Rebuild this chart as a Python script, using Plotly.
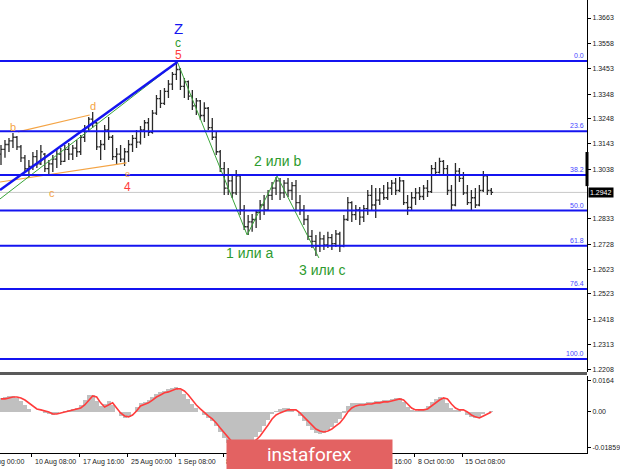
import plotly.graph_objects as go

# ---------------- data ----------------
bar_index = list(range(124))
open_ = [1.3100,1.3120,1.3140,1.3155,1.3170,1.3130,1.3085,1.3040,1.3050,1.3090,
         1.3060,1.3100,1.3040,1.3060,1.3080,1.3100,1.3070,1.3120,1.3100,1.3125,
         1.3110,1.3170,1.3210,1.3245,1.3230,1.3130,1.3140,1.3200,1.3170,1.3090,
         1.3100,1.3080,1.3110,1.3140,1.3165,1.3150,1.3200,1.3230,1.3190,1.3270,
         1.3330,1.3310,1.3360,1.3390,1.3430,1.3450,1.3380,1.3400,1.3340,1.3300,
         1.3320,1.3260,1.3290,1.3210,1.3170,1.3110,1.3040,1.2960,1.2990,1.2940,
         1.3010,1.2870,1.2800,1.2820,1.2830,1.2860,1.2890,1.2870,1.2930,1.2960,
         1.2990,1.2940,1.2980,1.2950,1.2970,1.2900,1.2870,1.2830,1.2760,1.2740,
         1.2720,1.2750,1.2725,1.2755,1.2730,1.2770,1.2720,1.2830,1.2900,1.2850,
         1.2870,1.2840,1.2875,1.2930,1.2890,1.2910,1.2940,1.2920,1.2960,1.2980,
         1.2950,1.2990,1.2900,1.2880,1.2920,1.2940,1.2925,1.2960,1.2945,1.3040,
         1.3025,1.3070,1.3040,1.2950,1.2890,1.3030,1.3000,1.2940,1.2900,1.2920,
         1.2890,1.2950,1.3010,1.2950]
high = [1.3138,1.3159,1.3167,1.3188,1.3175,1.3138,1.3097,1.3076,1.3109,1.3117,
        1.3138,1.3105,1.3076,1.3097,1.3117,1.3126,1.3138,1.3146,1.3138,1.3159,
        1.3179,1.3221,1.3254,1.3274,1.3233,1.3159,1.3221,1.3254,1.3179,1.3126,
        1.3138,1.3126,1.3159,1.3179,1.3200,1.3217,1.3241,1.3250,1.3283,1.3345,
        1.3365,1.3374,1.3407,1.3440,1.3481,1.3456,1.3415,1.3405,1.3365,1.3332,
        1.3324,1.3315,1.3295,1.3250,1.3192,1.3117,1.3068,1.3043,1.3014,1.3035,
        1.3015,1.2890,1.2849,1.2853,1.2869,1.2911,1.2931,1.2952,1.2985,1.3006,
        1.3002,1.2993,1.3002,1.2985,1.2993,1.2931,1.2890,1.2849,1.2787,1.2766,
        1.2779,1.2766,1.2779,1.2770,1.2787,1.2779,1.2849,1.2923,1.2905,1.2890,
        1.2882,1.2890,1.2952,1.2973,1.2960,1.2960,1.2973,1.2985,1.2993,1.3002,
        1.3006,1.2993,1.2931,1.2944,1.2960,1.2964,1.2973,1.2993,1.3055,1.3068,
        1.3085,1.3076,1.3055,1.2973,1.3064,1.3043,1.3026,1.2973,1.2952,1.2960,
        1.2973,1.3030,1.3015,1.2960]
low = [1.3055,1.3085,1.3109,1.3126,1.3117,1.3068,1.3026,1.3002,1.3035,1.3043,
       1.3055,1.3026,1.3010,1.3026,1.3043,1.3055,1.3068,1.3076,1.3076,1.3088,
       1.3097,1.3150,1.3192,1.3209,1.3117,1.3076,1.3117,1.3159,1.3076,1.3055,
       1.3068,1.3051,1.3068,1.3109,1.3126,1.3140,1.3167,1.3175,1.3185,1.3262,
       1.3291,1.3303,1.3332,1.3365,1.3407,1.3365,1.3332,1.3324,1.3283,1.3262,
       1.3241,1.3233,1.3200,1.3159,1.3097,1.3026,1.2931,1.2931,1.2919,1.2931,
       1.2849,1.2787,1.2766,1.2779,1.2795,1.2828,1.2849,1.2869,1.2911,1.2931,
       1.2911,1.2919,1.2923,1.2911,1.2869,1.2849,1.2807,1.2745,1.2712,1.2679,
       1.2696,1.2704,1.2712,1.2704,1.2716,1.2696,1.2715,1.2824,1.2820,1.2828,
       1.2807,1.2820,1.2849,1.2869,1.2836,1.2890,1.2911,1.2911,1.2931,1.2931,
       1.2944,1.2890,1.2849,1.2869,1.2890,1.2911,1.2911,1.2923,1.2940,1.3014,
       1.3020,1.3014,1.2931,1.2869,1.2885,1.2985,1.2931,1.2890,1.2869,1.2878,
       1.2885,1.2944,1.2931,1.2931]
close = [1.3120,1.3140,1.3155,1.3170,1.3130,1.3085,1.3040,1.3050,1.3090,1.3060,
         1.3110,1.3040,1.3060,1.3080,1.3100,1.3070,1.3120,1.3100,1.3125,1.3110,
         1.3170,1.3210,1.3245,1.3230,1.3130,1.3140,1.3200,1.3170,1.3090,1.3100,
         1.3080,1.3110,1.3140,1.3165,1.3150,1.3200,1.3230,1.3190,1.3270,1.3330,
         1.3310,1.3360,1.3390,1.3430,1.3450,1.3380,1.3400,1.3340,1.3300,1.3320,
         1.3260,1.3290,1.3210,1.3170,1.3110,1.3040,1.2960,1.2990,1.2940,1.3010,
         1.2870,1.2800,1.2820,1.2830,1.2860,1.2890,1.2870,1.2930,1.2960,1.2990,
         1.2940,1.2980,1.2950,1.2970,1.2900,1.2870,1.2830,1.2760,1.2740,1.2720,
         1.2750,1.2725,1.2755,1.2730,1.2770,1.2720,1.2830,1.2900,1.2850,1.2870,
         1.2840,1.2875,1.2930,1.2890,1.2910,1.2940,1.2920,1.2960,1.2980,1.2950,
         1.2990,1.2900,1.2880,1.2920,1.2940,1.2925,1.2960,1.2945,1.3040,1.3025,
         1.3070,1.3040,1.2950,1.2890,1.3030,1.3000,1.2940,1.2900,1.2920,1.2890,
         1.2950,1.3010,1.2950,1.2942]

macd_hist = [0.0074,0.0079,0.0085,0.0085,0.0074,0.0058,0.0037,0.0016,0.0000,0.0000,
             0.0000,-0.0005,-0.0011,-0.0016,-0.0011,0.0000,0.0005,0.0011,0.0016,0.0021,
             0.0037,0.0063,0.0090,0.0090,0.0058,0.0032,0.0042,0.0058,0.0037,0.0000,
             -0.0021,-0.0032,-0.0026,0.0000,0.0026,0.0048,0.0053,0.0063,0.0079,0.0095,
             0.0106,0.0111,0.0122,0.0127,0.0132,0.0116,0.0095,0.0069,0.0042,0.0021,
             0.0000,-0.0016,-0.0032,-0.0048,-0.0074,-0.0106,-0.0138,-0.0164,-0.0180,-0.0190,
             -0.0196,-0.0190,-0.0175,-0.0153,-0.0132,-0.0106,-0.0074,-0.0042,-0.0011,0.0005,
             0.0016,0.0021,0.0021,0.0016,0.0000,-0.0021,-0.0048,-0.0074,-0.0095,-0.0111,
             -0.0116,-0.0111,-0.0095,-0.0079,-0.0058,-0.0037,-0.0005,0.0032,0.0048,0.0048,
             0.0048,0.0048,0.0053,0.0053,0.0058,0.0058,0.0063,0.0063,0.0069,0.0074,
             0.0074,0.0053,0.0026,0.0011,0.0005,0.0011,0.0016,0.0032,0.0053,0.0069,
             0.0079,0.0074,0.0048,0.0021,0.0011,0.0011,0.0000,-0.0016,-0.0026,-0.0032,
             -0.0026,-0.0011,0.0000,0.0005]
macd_signal = [0.0069,0.0069,0.0074,0.0079,0.0079,0.0074,0.0063,0.0048,0.0032,0.0016,
               0.0011,0.0005,0.0000,-0.0011,-0.0011,-0.0005,0.0000,0.0005,0.0011,0.0016,
               0.0021,0.0037,0.0063,0.0085,0.0079,0.0048,0.0026,0.0037,0.0048,0.0021,
               -0.0005,-0.0021,-0.0026,-0.0016,0.0005,0.0032,0.0042,0.0048,0.0063,0.0079,
               0.0090,0.0101,0.0106,0.0116,0.0122,0.0122,0.0111,0.0090,0.0063,0.0037,
               0.0016,-0.0005,-0.0021,-0.0037,-0.0058,-0.0085,-0.0111,-0.0138,-0.0159,-0.0175,
               -0.0185,-0.0185,-0.0180,-0.0164,-0.0148,-0.0127,-0.0101,-0.0069,-0.0037,-0.0016,
               -0.0005,0.0005,0.0011,0.0011,0.0011,-0.0005,-0.0026,-0.0048,-0.0069,-0.0090,
               -0.0101,-0.0106,-0.0101,-0.0090,-0.0074,-0.0058,-0.0032,0.0000,0.0021,0.0032,
               0.0037,0.0037,0.0042,0.0042,0.0048,0.0048,0.0053,0.0053,0.0058,0.0063,
               0.0069,0.0063,0.0042,0.0021,0.0011,0.0011,0.0011,0.0016,0.0032,0.0048,
               0.0063,0.0074,0.0069,0.0042,0.0021,0.0011,0.0011,0.0000,-0.0016,-0.0026,
               -0.0032,-0.0021,-0.0011,0.0000]

price_ticks = [1.3663, 1.3558, 1.3453, 1.3348, 1.3248, 1.3143, 1.3038,
               1.2833, 1.2728, 1.2623, 1.2523, 1.2418, 1.2313, 1.2208]
ind_ticks = [0.0164, 0.0, -0.01859]
ind_tick_text = ["0.0164", "0.00", "-0.01859"]
time_labels = ["3 Aug 00:00", "10 Aug 08:00", "17 Aug 16:00", "25 Aug 00:00", "1 Sep 08:00",
               "8 Sep 16:00", "16 Sep 00:00", "23 Sep 08:00", "30 Sep 16:00",
               "8 Oct 00:00", "15 Oct 08:00"]
time_label_bar = [-4.25, 7.75, 19.75, 31.75, 43.75, 55.75, 67.75, 79.75, 91.75, 103.75, 115.75]
fib_levels = ["0.0", "23.6", "38.2", "50.0", "61.8", "76.4", "100.0"]
fib_prices = [1.3485, 1.3195, 1.3014, 1.2867, 1.2722, 1.2543, 1.2253]
current_price = 1.2942

blue_wave_x = [-0.25, 44.25]
blue_wave_y = [1.2952, 1.3481]
green_wave_x = [-0.25, 44.25, 61.75, 69.25, 79.75]
green_wave_y = [1.2915, 1.3481, 1.2766, 1.3010, 1.2671]
orange_bd_x = [4.25, 22.25]
orange_bd_y = [1.3192, 1.3262]
orange_ace_x = [-0.25, 31.5]
orange_ace_y = [1.2985, 1.3064]

# ---------------- figure ----------------
X0, X1 = -0.25, 147.0
FONT = "Liberation Sans, Arial, sans-serif"
BLUE = "#1414f0"
GREEN = "#2e9b2e"
ORANGE = "#f4a445"
RED = "#ff3c3c"

fig = go.Figure()
fig.add_trace(go.Ohlc(x=bar_index, open=open_, high=high, low=low, close=close,
                      increasing=dict(line=dict(color="#2a2a2a", width=1.3)),
                      decreasing=dict(line=dict(color="#2a2a2a", width=1.3)),
                      tickwidth=0.45, xaxis="x", yaxis="y", hoverinfo="skip",
                      showlegend=False))
fig.add_trace(go.Scatter(x=orange_bd_x, y=orange_bd_y, mode="lines",
                         line=dict(color=ORANGE, width=1.2), xaxis="x", yaxis="y", showlegend=False))
fig.add_trace(go.Scatter(x=orange_ace_x, y=orange_ace_y, mode="lines",
                         line=dict(color=ORANGE, width=1.2), xaxis="x", yaxis="y", showlegend=False))
fig.add_trace(go.Scatter(x=green_wave_x, y=green_wave_y, mode="lines",
                         line=dict(color="#3aa53a", width=1), xaxis="x", yaxis="y", showlegend=False))
fig.add_trace(go.Scatter(x=blue_wave_x, y=blue_wave_y, mode="lines",
                         line=dict(color=BLUE, width=2.5), xaxis="x", yaxis="y", showlegend=False))

fig.add_trace(go.Bar(x=bar_index, y=macd_hist, width=1.0, marker=dict(color="#c0c0c0", line=dict(width=0)),
                     xaxis="x2", yaxis="y2", showlegend=False, hoverinfo="skip"))
fig.add_trace(go.Scatter(x=bar_index, y=macd_signal, mode="lines",
                         line=dict(color=RED, width=1.6), xaxis="x2", yaxis="y2", showlegend=False))

shapes = []
shapes.append(dict(type="line", xref="x domain", x0=0, x1=1, yref="y", y0=current_price, y1=current_price,
                   line=dict(color="#c8c8c8", width=1), layer="below"))
for p in fib_prices:
    shapes.append(dict(type="line", xref="x domain", x0=0, x1=1, yref="y", y0=p, y1=p,
                       line=dict(color=BLUE, width=2)))
# separator between panels
shapes.append(dict(type="line", xref="paper", x0=0, x1=1, yref="paper", y0=0.1755, y1=0.1755,
                   line=dict(color="#5a5a5a", width=3)))
# price marker on axis
shapes.append(dict(type="line", xref="paper", x0=1, x1=1, yref="y", y0=1.2968, y1=1.3109,
                   line=dict(color="#000000", width=3)))

annotations = []
xspan = X1 - X0
for lab, b in zip(time_labels, time_label_bar):
    annotations.append(dict(xref="paper", x=(b - X0) / xspan, yref="paper", y=0, yshift=-3,
                            xanchor="left", yanchor="top", xshift=1, text=lab, showarrow=False,
                            font=dict(family=FONT, size=7, color="#222222")))
for lab, p in zip(fib_levels, fib_prices):
    annotations.append(dict(xref="paper", x=1, xshift=-1, yref="y", y=p, yanchor="bottom",
                            xanchor="right", text=lab, showarrow=False,
                            font=dict(family=FONT, size=7, color="#4848ff")))
annotations.append(dict(xref="paper", x=1, xshift=1, yref="y", y=current_price, xanchor="left",
                        yanchor="middle", text="1.2942", showarrow=False, bgcolor="#000000",
                        borderpad=1, font=dict(family=FONT, size=7, color="#ffffff")))

def lab(x, y, text, color, size, yanchor="middle"):
    annotations.append(dict(xref="x", yref="y", x=x, y=y, text=text, showarrow=False,
                            xanchor="center", yanchor=yanchor,
                            font=dict(family=FONT, size=size, color=color)))

lab(44.5, 1.3619, "Z", BLUE, 15)
lab(44.3, 1.3560, "c", GREEN, 12)
lab(44.5, 1.3510, "5", RED, 12)
lab(3.0, 1.3212, "b", ORANGE, 11)
lab(23.0, 1.3299, "d", ORANGE, 11)
lab(12.75, 1.2940, "c", ORANGE, 11)
lab(31.75, 1.3018, "e", ORANGE, 9)
lab(31.75, 1.2964, "4", RED, 12)
lab(69.25, 1.3072, "2 или b", GREEN, 14)
lab(62.25, 1.2692, "1 или a", GREEN, 14)
lab(80.5, 1.2621, "3 или c", GREEN, 14)

# logo
annotations.append(dict(xref="paper", yref="paper", x=310.5 / 589, y=(453 - 454.5) / 453,
                        xanchor="center", yanchor="middle", width=165, height=29,
                        bgcolor="#e36262", borderpad=0, text="instaforex", showarrow=False,
                        font=dict(family="Roboto, Open Sans, sans-serif", size=19, color="#ffffff")))

fig.update_layout(
    width=620, height=469,
    margin=dict(l=0, r=31, t=0, b=16),
    paper_bgcolor="#ffffff", plot_bgcolor="#ffffff",
    showlegend=False, hovermode=False, bargap=0,
    xaxis=dict(domain=[0, 1], range=[X0, X1], anchor="y", showgrid=False, zeroline=False,
               showticklabels=False, ticks="", showline=False,
               rangeslider=dict(visible=False)),
    yaxis=dict(domain=[0.1788, 1], range=[1.21996, 1.37374], side="right", anchor="x",
               tickvals=price_ticks, ticktext=[f"{v:.4f}" for v in price_ticks],
               ticks="outside", ticklen=3, tickcolor="#000", showline=True, linecolor="#000",
               linewidth=1, showgrid=False, zeroline=False,
               tickfont=dict(family=FONT, size=7, color="#222222")),
    xaxis2=dict(domain=[0, 1], range=[X0, X1], anchor="y2", matches="x", showgrid=False,
                zeroline=False, tickvals=time_label_bar, ticktext=[""] * len(time_label_bar),
                ticks="outside", ticklen=3, tickcolor="#000", showline=True, linecolor="#000",
                linewidth=1),
    yaxis2=dict(domain=[0, 0.17], range=[-0.02169, 0.0190], side="right", anchor="x2",
                tickvals=ind_ticks, ticktext=ind_tick_text, ticks="outside", ticklen=3,
                tickcolor="#000", showline=True, linecolor="#000", linewidth=1,
                showgrid=False, zeroline=False,
                tickfont=dict(family=FONT, size=7, color="#222222")),
    shapes=shapes, annotations=annotations,
)

fig.write_html("out.html", config={"displayModeBar": False},
               post_script="document.body.style.margin='0';document.body.style.padding='0';")
